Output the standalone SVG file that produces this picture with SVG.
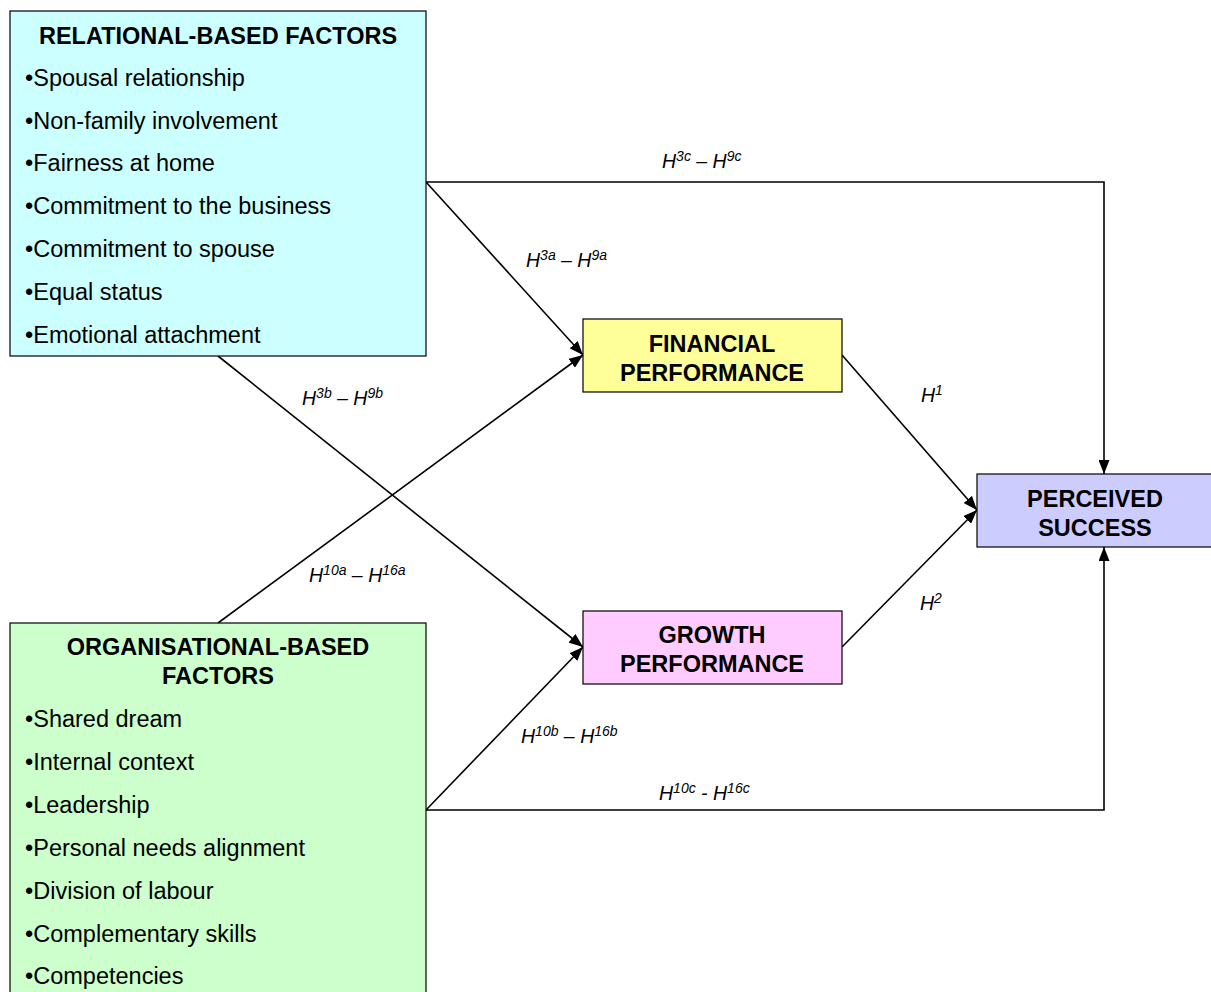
<svg xmlns="http://www.w3.org/2000/svg" width="1211" height="992" viewBox="0 0 1211 992">
<style>
  .box { stroke: #000; stroke-width: 1.2; }
  .title { font-family: "Liberation Sans", Arial, sans-serif; font-weight: bold; font-size: 23.5px; text-anchor: middle; }
  .item { font-family: "Liberation Sans", Arial, sans-serif; font-size: 23.5px; }
  .lbl { font-family: "Liberation Sans", Arial, sans-serif; font-style: italic; font-size: 19.5px; }
  .sup { font-size: 14px; }
  .conn { fill: none; stroke: #000; stroke-width: 1.6; }
</style>
<defs>
  <marker id="arrow" viewBox="0 0 14 11" refX="14" refY="5.5" markerWidth="14" markerHeight="11" markerUnits="userSpaceOnUse" orient="auto">
    <path d="M0,0 L14,5.5 L0,11 Z" fill="#000"/>
  </marker>
</defs>
<rect width="1211" height="992" fill="#fff"/>

<g id="connectors">
  <polyline class="conn" points="426,182 1104,182 1104,474" marker-end="url(#arrow)"/>
  <line class="conn" x1="426" y1="182" x2="583" y2="355" marker-end="url(#arrow)"/>
  <line class="conn" x1="218" y1="356" x2="583" y2="647" marker-end="url(#arrow)"/>
  <line class="conn" x1="218" y1="623" x2="583" y2="355" marker-end="url(#arrow)"/>
  <line class="conn" x1="426" y1="810" x2="583" y2="647" marker-end="url(#arrow)"/>
  <polyline class="conn" points="426,810 1104,810 1104,547" marker-end="url(#arrow)"/>
  <line class="conn" x1="842" y1="355" x2="977" y2="510" marker-end="url(#arrow)"/>
  <line class="conn" x1="842" y1="647" x2="977" y2="510" marker-end="url(#arrow)"/>
</g>

<g id="labels">
  <text class="lbl" x="662" y="168">H<tspan class="sup" dy="-7">3c</tspan><tspan dy="7"> – H</tspan><tspan class="sup" dy="-7">9c</tspan></text>
  <text class="lbl" x="526" y="267">H<tspan class="sup" dy="-7">3a</tspan><tspan dy="7"> – H</tspan><tspan class="sup" dy="-7">9a</tspan></text>
  <text class="lbl" x="302" y="405">H<tspan class="sup" dy="-7">3b</tspan><tspan dy="7"> – H</tspan><tspan class="sup" dy="-7">9b</tspan></text>
  <text class="lbl" x="309" y="582">H<tspan class="sup" dy="-7">10a</tspan><tspan dy="7"> – H</tspan><tspan class="sup" dy="-7">16a</tspan></text>
  <text class="lbl" x="921" y="402">H<tspan class="sup" dy="-7">1</tspan></text>
  <text class="lbl" x="920" y="610">H<tspan class="sup" dy="-7">2</tspan></text>
  <text class="lbl" x="521" y="743">H<tspan class="sup" dy="-7">10b</tspan><tspan dy="7"> – H</tspan><tspan class="sup" dy="-7">16b</tspan></text>
  <text class="lbl" x="659" y="800">H<tspan class="sup" dy="-7">10c</tspan><tspan dy="7"> - H</tspan><tspan class="sup" dy="-7">16c</tspan></text>
</g>

<g id="relational">
  <rect class="box" x="10" y="11" width="416" height="345" fill="#CCFFFF"/>
  <text class="title" x="218" y="44">RELATIONAL-BASED FACTORS</text>
  <text class="item" x="25" y="86">•Spousal relationship</text>
  <text class="item" x="25" y="129">•Non-family involvement</text>
  <text class="item" x="25" y="171">•Fairness at home</text>
  <text class="item" x="25" y="214">•Commitment to the business</text>
  <text class="item" x="25" y="257">•Commitment to spouse</text>
  <text class="item" x="25" y="300">•Equal status</text>
  <text class="item" x="25" y="343">•Emotional attachment</text>
</g>

<g id="organisational">
  <rect class="box" x="10" y="623" width="416" height="380" fill="#CCFFCC"/>
  <text class="title" x="218" y="655">ORGANISATIONAL-BASED</text>
  <text class="title" x="218" y="684">FACTORS</text>
  <text class="item" x="25" y="727">•Shared dream</text>
  <text class="item" x="25" y="770">•Internal context</text>
  <text class="item" x="25" y="813">•Leadership</text>
  <text class="item" x="25" y="856">•Personal needs alignment</text>
  <text class="item" x="25" y="899">•Division of labour</text>
  <text class="item" x="25" y="942">•Complementary skills</text>
  <text class="item" x="25" y="984">•Competencies</text>
</g>

<g id="financial">
  <rect class="box" x="583" y="319" width="259" height="73" fill="#FFFF99"/>
  <text class="title" x="712" y="352">FINANCIAL</text>
  <text class="title" x="712" y="381">PERFORMANCE</text>
</g>

<g id="growth">
  <rect class="box" x="583" y="611" width="259" height="73" fill="#FFCCFF"/>
  <text class="title" x="712" y="643">GROWTH</text>
  <text class="title" x="712" y="672">PERFORMANCE</text>
</g>

<g id="perceived">
  <rect class="box" x="977" y="474" width="240" height="73" fill="#CCCCFF"/>
  <text class="title" x="1095" y="507">PERCEIVED</text>
  <text class="title" x="1095" y="536">SUCCESS</text>
</g>
</svg>
